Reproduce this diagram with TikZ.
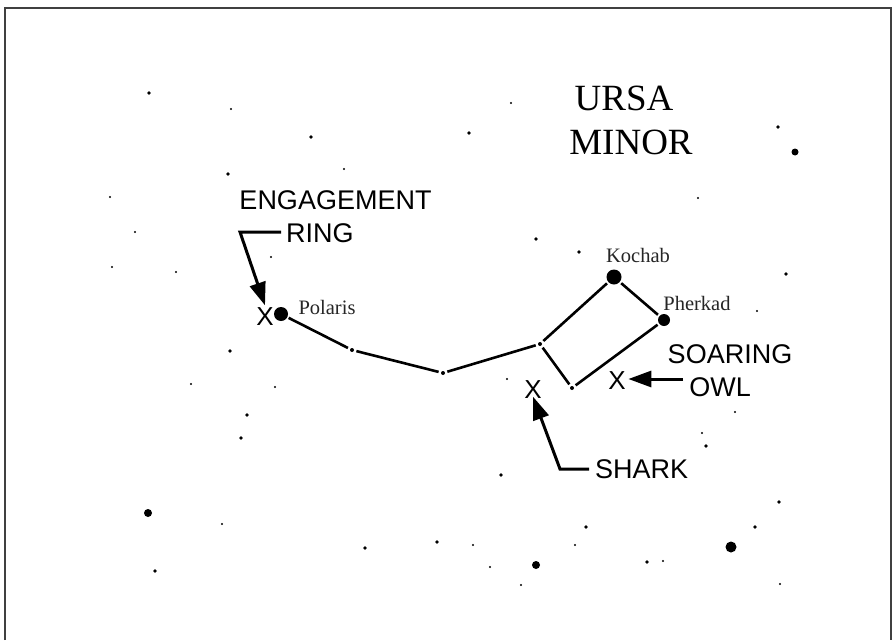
\documentclass[tikz,border=0pt]{standalone}
\usepackage{fontspec}
\newfontfamily\lsans{Liberation Sans}
\newfontfamily\lserif{Liberation Serif}
\usetikzlibrary{arrows.meta}
\begin{document}
\begin{tikzpicture}[x=1pt,y=-1pt,
  star/.style={circle,fill=black,inner sep=0pt,minimum size=#1},
  cstar/.style={circle,fill=black,inner sep=0pt,minimum size=#1,outer sep=2.5pt},
  conline/.style={line width=2.6pt},
  pointer/.style={line width=3pt,-{Triangle[length=23pt,width=16pt]}},
  bigsans/.style={font=\lsans\fontsize{27}{29}\selectfont,inner sep=0pt},
  smallserif/.style={font=\lserif\fontsize{20.5}{22}\selectfont,inner sep=0pt,text=black!85},
  title/.style={font=\lserif\fontsize{37}{40}\selectfont,inner sep=0pt},
  xmark/.style={font=\lsans\fontsize{26}{28}\selectfont,inner sep=0.5pt}]
\useasboundingbox (0,0) rectangle (894,640);
\fill[white] (0,0) rectangle (894,640);
% frame
\draw[line width=1.3pt,black!75] (5,640) -- (5,8) -- (891,8) -- (891,640);
% background stars: tiny
\foreach \p [count=\i] in {(231,109),(511,103),(344,169),(110,197),(135,232),(112,267),(176,272),(271,257),(757,311),(698,198),(191,384),(275,387),(507,379),(222,524),(473,545),(490,567),(575,545),(521,585),(663,561),(780,584),(735,412),(702,433)}
  \node[star=2.2pt] (t\i) at \p {};
% small
\foreach \p [count=\i] in {(149,93),(311,137),(469,133),(228,174),(536,239),(579,252),(786,274),(778,127),(230,351),(247,415),(241,438),(501,475),(155,571),(365,548),(437,542),(586,527),(647,562),(779,502),(755,527),(706,446)}
  \node[star=3.8pt] (s\i) at \p {};
% larger
\node[star=7pt] (l1) at (795,152) {};
\node[star=8pt] (l2) at (148,513) {};
\node[star=8pt] (l3) at (536,565) {};
\node[star=11pt] (l4) at (731,547) {};
% constellation
\node[cstar=14pt,outer sep=1.5pt] (polaris) at (281,314) {};
\node[cstar=4pt] (ca) at (352,350) {};
\node[cstar=4pt] (cb) at (443,373) {};
\node[cstar=4pt] (cc) at (540,344) {};
\node[cstar=4pt] (cd) at (572,388) {};
\node[cstar=12pt,outer sep=2pt] (pherkad) at (664,320) {};
\node[cstar=15pt,outer sep=2pt] (kochab) at (614,277) {};
\draw[conline] (polaris) -- (ca);
\draw[conline] (ca) -- (cb);
\draw[conline] (cb) -- (cc);
\draw[conline] (cc) -- (cd);
\draw[conline] (cd) -- (pherkad);
\draw[conline] (pherkad) -- (kochab);
\draw[conline] (kochab) -- (cc);
% star names
\node[smallserif] (lpolaris) at (327,307) {Polaris};
\node[smallserif] (lkochab) at (638,255) {Kochab};
\node[smallserif] (lpherkad) at (697,303) {Pherkad};
% title
\node[title] (ursa) at (624,98) {URSA};
\node[title] (minor) at (631,142) {MINOR};
% labels
\node[bigsans] (engage) at (335.5,200) {ENGAGEMENT};
\node[bigsans,anchor=west] (ring) at (286,233) {RING};
\node[bigsans] (soaring) at (730,354) {SOARING};
\node[bigsans] (owl) at (720,387) {OWL};
\node[bigsans,anchor=west] (shark) at (595,469) {SHARK};
% X marks
\node[xmark] (xring) at (265,317) {X};
\node[xmark] (xshark) at (533,390) {X};
\node[xmark] (xowl) at (617,381) {X};
% pointers
\coordinate (rbend) at (240,232);
\coordinate (sbend) at (560,469);
\draw[pointer] ([xshift=-5pt,yshift=1pt]ring.west) -- (rbend) -- ([yshift=2pt]xring.north);
\draw[pointer] ([xshift=-6pt,yshift=8pt]owl.west) -- ([xshift=2pt,yshift=2pt]xowl.east);
\draw[pointer] ([xshift=-6pt]shark.west) -- (sbend) -- ([yshift=3pt]xshark.south);
\end{tikzpicture}
\end{document}
